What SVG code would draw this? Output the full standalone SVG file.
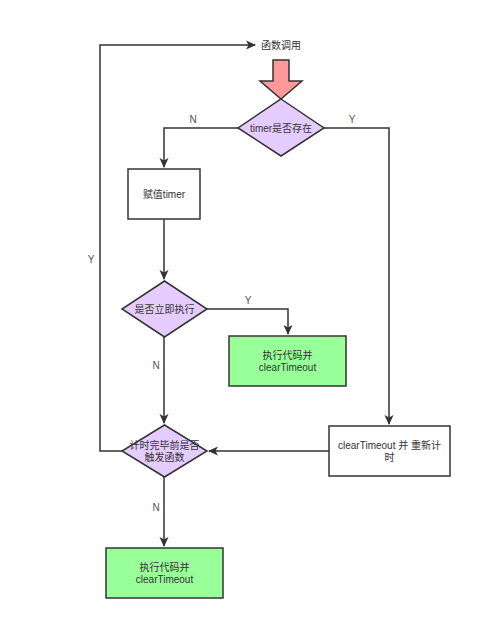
<svg xmlns="http://www.w3.org/2000/svg" width="494" height="642" viewBox="0 0 494 642">
<defs>
<marker id="ah" markerWidth="10" markerHeight="10" refX="9" refY="5" orient="auto" markerUnits="userSpaceOnUse">
<path d="M0,0.5 L10,5 L0,9.5 L2.5,5 Z" fill="#333"/>
</marker>
<style>
text{font-family:"Liberation Sans","Noto Sans CJK SC",sans-serif;font-size:10px;fill:#333;text-anchor:middle;dominant-baseline:central}
.ln{fill:none;stroke:#333;stroke-width:1.5}
.dia{fill:#E5CCFF;stroke:#333;stroke-width:1.5}
.box{fill:#fff;stroke:#333;stroke-width:1.5}
.grn{fill:#99FF99;stroke:#333;stroke-width:1.5}
.lbl{fill:#555}
</style>
</defs>
<rect width="494" height="642" fill="#fff"/>
<g id="connectors">
<path class="ln" d="M238,128 H164 V167" marker-end="url(#ah)"/>
<path class="ln" d="M324,128 H389 V424" marker-end="url(#ah)"/>
<path class="ln" d="M164,219 V279" marker-end="url(#ah)"/>
<path class="ln" d="M207,309 H288 V334" marker-end="url(#ah)"/>
<path class="ln" d="M164,337 V423" marker-end="url(#ah)"/>
<path class="ln" d="M329,451 H209" marker-end="url(#ah)"/>
<path class="ln" d="M164,477 V546" marker-end="url(#ah)"/>
<path class="ln" d="M122,451 H100 V45 H255" marker-end="url(#ah)"/>
<text class="lbl" x="193" y="119">N</text>
<text class="lbl" x="352" y="119">Y</text>
<text class="lbl" x="248" y="300">Y</text>
<text class="lbl" x="156" y="365">N</text>
<text class="lbl" x="91" y="259">Y</text>
<text class="lbl" x="156" y="507">N</text>
</g>
<g id="start">
<text x="281" y="45">函数调用</text>
<path d="M273,60 H289 V81 H302 L281,99 L260,81 H273 Z" fill="#FF9999" stroke="#333" stroke-width="1.5"/>
</g>
<g id="timer-exists">
<polygon class="dia" points="281,99 324,128 281,156 238,128"/>
<text x="281" y="128">timer是否存在</text>
</g>
<g id="assign-timer">
<rect class="box" x="128" y="169" width="72" height="50"/>
<text x="164" y="194">赋值timer</text>
</g>
<g id="immediate">
<polygon class="dia" points="164.5,281 207,309 164.5,337 122,309"/>
<text x="164.5" y="309">是否立即执行</text>
</g>
<g id="exec1">
<rect class="grn" x="229" y="336" width="117" height="50"/>
<text x="287.5" y="355">执行代码并</text>
<text x="287.5" y="367">clearTimeout</text>
</g>
<g id="before-end">
<polygon class="dia" points="164.5,425 207,451 164.5,477 122,451"/>
<text x="164.5" y="445">计时完毕前是否</text>
<text x="164.5" y="457">触发函数</text>
</g>
<g id="reset">
<rect class="box" x="329" y="426" width="121" height="50"/>
<text x="389.5" y="445">clearTimeout 并 重新计</text>
<text x="389.5" y="457">时</text>
</g>
<g id="exec2">
<rect class="grn" x="106" y="548" width="117" height="50"/>
<text x="164.5" y="567">执行代码并</text>
<text x="164.5" y="579">clearTimeout</text>
</g>
</svg>
